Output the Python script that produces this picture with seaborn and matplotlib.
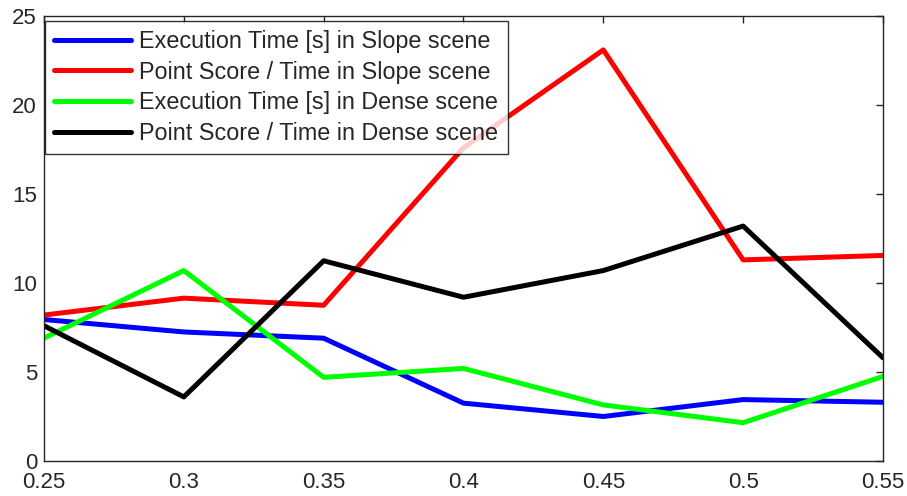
import numpy as np
import pandas as pd
import matplotlib
matplotlib.use("Agg")
import matplotlib.pyplot as plt
import seaborn as sns

# values
x_vals = [0.25, 0.30, 0.35, 0.40, 0.45, 0.50, 0.55]
exec_slope = [7.95, 7.25, 6.9, 3.25, 2.5, 3.45, 3.3]
score_slope = [8.2, 9.15, 8.75, 17.6, 23.1, 11.3, 11.55]
exec_dense = [6.9, 10.7, 4.7, 5.2, 3.15, 2.15, 4.75]
score_dense = [7.6, 3.6, 11.25, 9.2, 10.7, 13.2, 5.8]

series_names = [
    "Execution Time [s] in Slope scene",
    "Point Score / Time in Slope scene",
    "Execution Time [s] in Dense scene",
    "Point Score / Time in Dense scene",
]
series_colors = ["#0000ff", "#ff0000", "#00ff00", "#000000"]

df = pd.concat([
    pd.DataFrame({"x": x_vals, "y": vals, "series": name})
    for name, vals in zip(series_names, [exec_slope, score_slope, exec_dense, score_dense])
], ignore_index=True)

sns.set_theme(style="white")
plt.rcParams["font.family"] = ["Liberation Sans", "DejaVu Sans"]

fig = plt.figure(figsize=(9.07, 4.96), dpi=100)
ax = fig.add_axes([0.0485, 0.0706, 0.925, 0.897])

sns.lineplot(data=df, x="x", y="y", hue="series", hue_order=series_names,
             palette=series_colors, linewidth=3.6, ax=ax, sort=False)

ax.set_xlim(0.25, 0.55)
ax.set_ylim(0, 25)
ax.set_xticks(x_vals)
ax.set_xticklabels(["0.25", "0.3", "0.35", "0.4", "0.45", "0.5", "0.55"])
ax.set_yticks([0, 5, 10, 15, 20, 25])
ax.set_xlabel("")
ax.set_ylabel("")
ax.tick_params(direction="in", length=5, width=1, top=True, right=True,
               labelsize=16, colors="#262626")
ax.tick_params(axis="x", pad=8)
ax.tick_params(axis="y", pad=5)
for sp in ax.spines.values():
    sp.set_color("#262626")
    sp.set_linewidth(1)

leg = ax.legend(loc="upper left", bbox_to_anchor=(0.0012, 0.99), fontsize=16.8,
                frameon=True, fancybox=False, edgecolor="#000000",
                handlelength=3.3, labelspacing=0.33, borderpad=0.4,
                handletextpad=0.35, borderaxespad=0)
leg.get_frame().set_linewidth(1)
for line in leg.get_lines():
    line.set_linewidth(3.6)

fig.savefig("out.png", dpi=100)
